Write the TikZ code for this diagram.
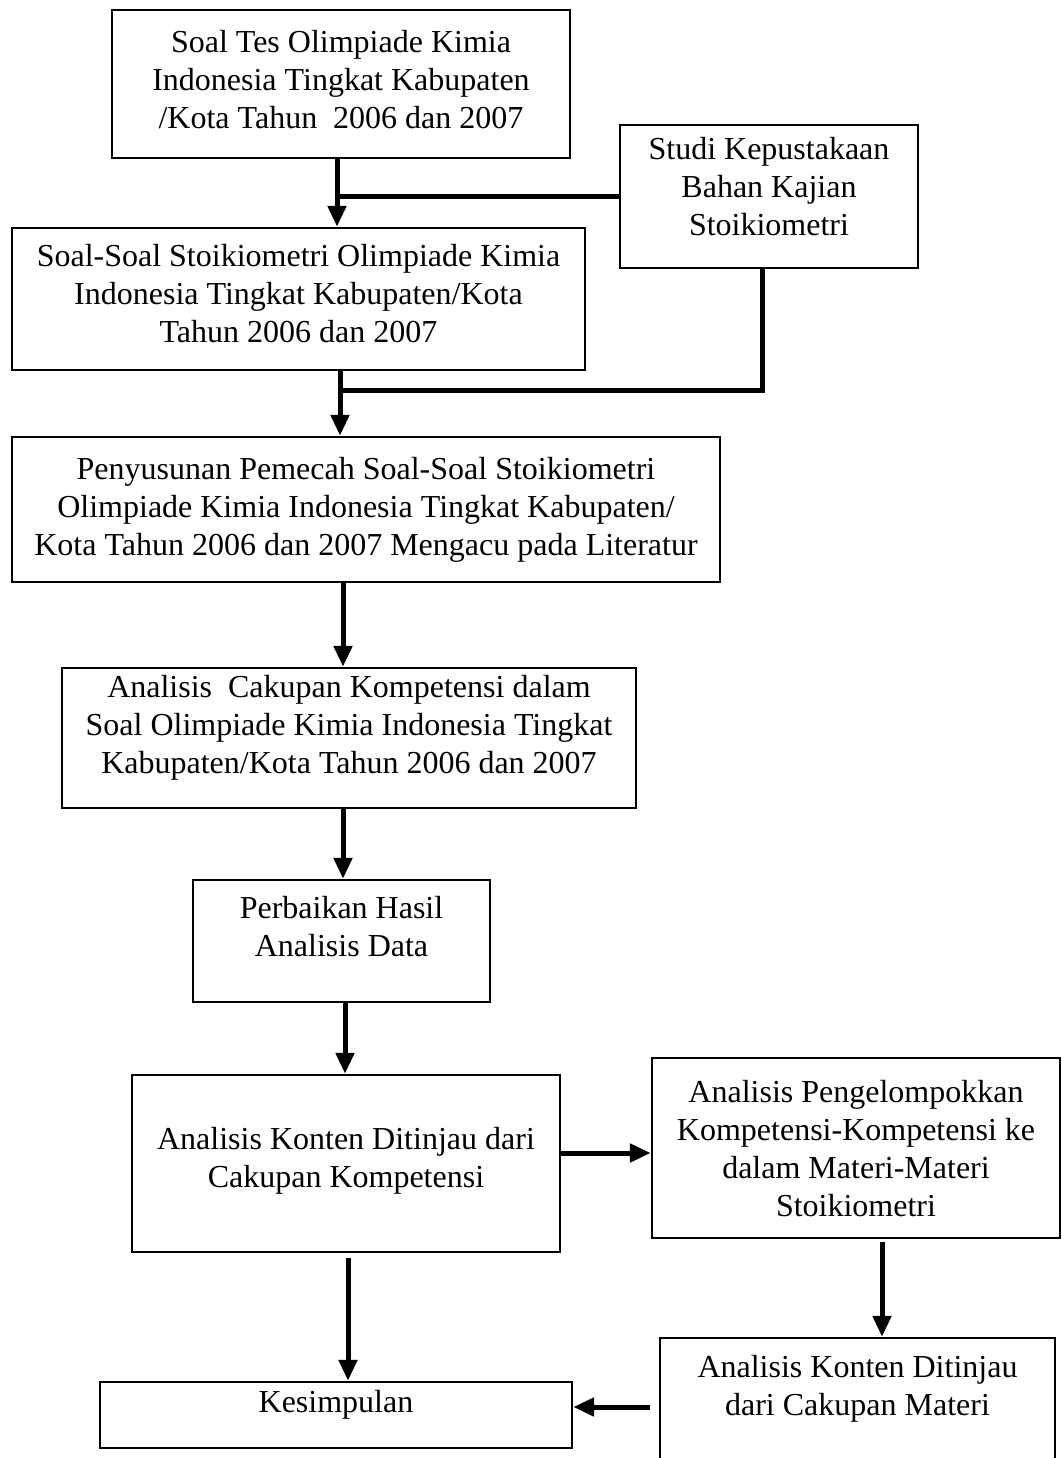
\documentclass[tikz,border=0pt]{standalone}
\usepackage{fontspec}
\setmainfont{Liberation Serif}
\usetikzlibrary{arrows.meta,calc}
\begin{document}
\begin{tikzpicture}[x=1pt,y=-1pt,
  box/.style={draw, line width=2.4pt, inner sep=0pt},
  txt/.style={align=center, inner sep=0pt, font=\fontsize{32}{38}\selectfont},
  conn/.style={line width=5pt, line join=miter},
  arr/.style={line width=5pt, -{Triangle[length=21pt,width=18pt]}}]
\useasboundingbox (0,0) rectangle (1062,1458);
\clip (0,0) rectangle (1062,1458);
\fill[white] (0,0) rectangle (1062,1458);

% boxes
\node[box, minimum width=458pt, minimum height=148pt] (A) at (341,84) {};
\node[txt] (At) at (341,80) {Soal Tes Olimpiade Kimia\\Indonesia Tingkat Kabupaten\\/Kota Tahun\ \ 2006 dan 2007};

\node[box, minimum width=298pt, minimum height=143pt] (B) at (769,196.5) {};
\node[txt] (Bt) at (769,187) {Studi Kepustakaan\\Bahan Kajian\\Stoikiometri};

\node[box, minimum width=573pt, minimum height=142pt] (C) at (298.5,299) {};
\node[txt] (Ct) at (298.5,294) {Soal-Soal Stoikiometri Olimpiade Kimia\\Indonesia Tingkat Kabupaten/Kota\\Tahun 2006 dan 2007};

\node[box, minimum width=708pt, minimum height=145pt] (D) at (366,509.5) {};
\node[txt] (Dt) at (366,510) {Penyusunan Pemecah Soal-Soal Stoikiometri\\Olimpiade Kimia Indonesia Tingkat Kabupaten/\\Kota Tahun 2006 dan 2007 Mengacu pada Literatur};

\node[box, minimum width=574pt, minimum height=140pt] (E) at (349,738) {};
\node[txt] (Et) at (349,728) {Analisis\ \ Cakupan Kompetensi dalam\\Soal Olimpiade Kimia Indonesia Tingkat\\Kabupaten/Kota Tahun 2006 dan 2007};

\node[box, minimum width=297pt, minimum height=122pt] (F) at (341.5,941) {};
\node[txt] (Ft) at (341.5,927) {Perbaikan Hasil\\Analisis Data};

\node[box, minimum width=428pt, minimum height=177pt] (G) at (346,1163.5) {};
\node[txt] (Gt) at (346,1161) {Analisis Konten Ditinjau dari\\Cakupan Kompetensi};

\node[box, minimum width=408pt, minimum height=180pt] (H) at (856,1148) {};
\node[txt] (Ht) at (856,1149) {Analisis Pengelompokkan\\Kompetensi-Kompetensi ke\\dalam Materi-Materi\\Stoikiometri};

\node[box, minimum width=395pt, minimum height=142pt] (J) at (857.5,1409) {};
\node[txt] (Jt) at (857.5,1389) {Analisis Konten Ditinjau\\dari Cakupan Materi};

\node[box, minimum width=472pt, minimum height=66pt] (I) at (336,1415) {};
\node[txt] (It) at (336,1405) {Kesimpulan};

% junction coordinates
\coordinate (s1) at (337,196.5);
\coordinate (b2) at (762,390);
\coordinate (s2) at (340,390);
\coordinate (s3) at (343,0);
\coordinate (s4) at (345,0);
\coordinate (h1) at (0,1153);
\coordinate (v1) at (882,1242);
\coordinate (w1) at (650,1407);
\coordinate (g1) at (348,1258);

% connectors
\draw[arr] (A.south -| s1) -- (C.north -| s1);
\draw[conn] (B.west) -- (s1);
\draw[conn] (B.south -| b2) -- (b2) -- (s2);
\draw[arr] (C.south -| s2) -- (D.north -| s2);
\draw[arr] (D.south -| s3) -- (E.north -| s3);
\draw[arr] (E.south -| s3) -- (F.north -| s3);
\draw[arr] (F.south -| s4) -- (G.north -| s4);
\draw[arr] (G.east |- h1) -- (H.west |- h1);
\draw[arr] (v1) -- (J.north -| v1);
\draw[arr] (w1) -- (I.east |- w1);
\draw[arr] (g1) -- (I.north -| g1);
\end{tikzpicture}
\end{document}
